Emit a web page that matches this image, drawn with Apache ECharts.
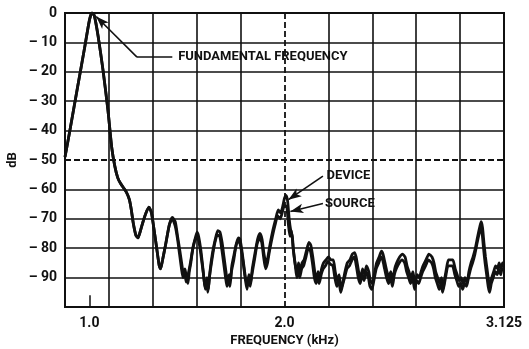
<!DOCTYPE html>
<html>
<head>
<meta charset="utf-8">
<script src="https://cdn.jsdelivr.net/npm/echarts@6/dist/echarts.min.js"></script>
<style>
html,body{margin:0;padding:0;background:#fff;}
#c{width:529px;height:349px;}
</style>
</head>
<body>
<div id="c"></div>
<script>
// X: frequency (kHz), Y: level (dB)
const xLabels = ['1.0', '2.0', '3.125'];
const xLabelValues = [1.0, 2.0, 3.125];
const yTicks = [0, -10, -20, -30, -40, -50, -60, -70, -80, -90];

const mainLobe = [[0.875,-49],[0.90,-40],[0.94,-25],[0.975,-12],[1.0,-2.5],[1.013,0],[1.025,-0.8],[1.045,-8],[1.07,-19.5],[1.095,-33],[1.115,-46],[1.13,-52],[1.145,-56],[1.16,-58],[1.19,-61],[1.205,-63.5],[1.215,-67],[1.225,-71.5],[1.238,-75.5],[1.249,-76.5],[1.262,-74],[1.275,-71],[1.29,-68],[1.305,-66],[1.318,-68],[1.33,-73],[1.345,-80],[1.358,-86],[1.365,-87],[1.375,-84],[1.39,-79],[1.41,-72]];

const deviceTail = [[1.425,-69.5],[1.44,-71],[1.452,-76],[1.464,-81],[1.475,-86],[1.482,-89],[1.49,-87],[1.497,-90],[1.505,-92],[1.512,-88],[1.52,-85],[1.53,-80],[1.545,-76],[1.552,-74.5],[1.56,-76],[1.572,-81],[1.582,-87],[1.59,-92],[1.597,-93.5],[1.603,-90],[1.61,-94],[1.618,-88],[1.63,-82],[1.645,-77],[1.658,-74],[1.669,-74.5],[1.68,-78],[1.69,-83],[1.70,-88],[1.708,-92],[1.716,-89],[1.723,-91],[1.73,-86],[1.742,-82],[1.755,-78],[1.765,-76.5],[1.772,-77],[1.78,-80],[1.79,-85],[1.80,-90],[1.81,-92],[1.818,-89],[1.826,-92],[1.835,-87],[1.848,-82],[1.862,-77],[1.874,-75],[1.885,-77],[1.895,-82],[1.905,-85],[1.915,-83],[1.925,-79],[1.94,-74],[1.955,-70],[1.968,-67],[1.98,-68],[1.99,-66],[2.0,-63],[2.008,-62],[2.016,-64],[2.024,-70],[2.032,-74],[2.04,-76],[2.048,-82],[2.056,-86],[2.065,-88],[2.072,-85],[2.08,-88],[2.09,-85],[2.1,-84],[2.112,-81],[2.125,-78],[2.135,-79],[2.145,-83],[2.155,-88],[2.165,-91],[2.172,-88],[2.18,-90],[2.19,-87],[2.2,-85],[2.212,-84],[2.225,-83],[2.238,-84],[2.25,-84],[2.26,-88],[2.27,-91],[2.28,-89],[2.29,-94],[2.298,-92],[2.31,-88],[2.322,-85],[2.335,-84],[2.348,-82],[2.36,-81.5],[2.37,-84],[2.38,-88],[2.39,-90],[2.40,-87],[2.41,-89],[2.42,-86],[2.432,-88],[2.44,-91],[2.45,-92],[2.46,-89],[2.472,-85],[2.485,-83],[2.497,-81],[2.505,-82],[2.515,-85],[2.525,-88],[2.535,-90],[2.545,-88],[2.555,-91],[2.565,-87],[2.575,-85],[2.59,-83],[2.605,-82],[2.618,-83],[2.628,-86],[2.638,-88],[2.648,-90],[2.658,-88],[2.669,-92],[2.68,-89],[2.69,-90],[2.70,-88],[2.71,-86],[2.725,-84],[2.74,-82],[2.756,-83],[2.766,-85],[2.775,-88],[2.785,-90],[2.795,-92],[2.805,-90],[2.812,-94],[2.822,-90],[2.83,-87],[2.84,-84],[2.852,-84],[2.863,-84],[2.875,-87],[2.885,-89],[2.895,-91],[2.905,-90],[2.915,-92],[2.925,-90],[2.935,-92],[2.945,-88],[2.956,-85],[2.966,-83],[2.978,-80],[2.99,-76],[3.0,-73],[3.008,-71],[3.015,-73],[3.022,-78],[3.03,-83],[3.038,-87],[3.046,-91],[3.053,-93],[3.062,-90],[3.072,-88],[3.082,-86],[3.092,-87],[3.1,-85],[3.11,-87],[3.118,-85],[3.125,-85]];

const sourceTail = [[1.425,-70],[1.44,-72.5],[1.452,-77],[1.462,-82],[1.472,-87],[1.48,-90],[1.488,-88],[1.496,-91.5],[1.506,-89],[1.515,-86],[1.528,-81],[1.54,-77.5],[1.552,-76],[1.562,-78],[1.575,-84],[1.585,-89],[1.594,-94],[1.6,-91],[1.607,-95],[1.615,-90],[1.628,-84],[1.642,-78.5],[1.656,-75.5],[1.668,-76],[1.678,-80],[1.688,-85],[1.698,-90],[1.705,-93],[1.712,-90],[1.72,-93],[1.728,-88],[1.74,-84],[1.752,-79],[1.763,-77.5],[1.772,-78.5],[1.782,-82],[1.792,-87],[1.80,-91],[1.808,-94],[1.816,-90],[1.824,-93],[1.833,-89],[1.846,-84],[1.86,-78.5],[1.872,-76.5],[1.883,-78],[1.893,-83],[1.903,-87],[1.913,-85],[1.923,-81],[1.938,-76],[1.952,-72],[1.965,-69],[1.978,-70],[1.988,-68],[1.996,-66],[2.004,-65.5],[2.012,-66],[2.02,-72],[2.028,-76],[2.036,-74],[2.044,-80],[2.054,-85],[2.063,-90],[2.07,-87],[2.078,-90],[2.088,-87],[2.098,-86],[2.11,-83],[2.122,-80],[2.133,-81],[2.143,-85],[2.153,-90],[2.162,-92],[2.17,-90],[2.178,-92],[2.188,-89],[2.198,-87],[2.21,-86],[2.222,-84.5],[2.236,-85.5],[2.248,-86],[2.258,-90],[2.268,-93],[2.278,-91],[2.288,-95],[2.296,-93],[2.308,-90],[2.32,-87],[2.333,-86],[2.346,-84],[2.358,-83],[2.368,-86],[2.378,-90],[2.388,-92],[2.398,-89],[2.408,-91],[2.418,-88],[2.43,-90],[2.438,-93],[2.448,-94],[2.458,-91],[2.47,-87],[2.483,-85],[2.495,-83],[2.503,-84],[2.513,-87],[2.523,-90],[2.533,-92],[2.543,-90],[2.553,-93],[2.563,-89],[2.573,-87],[2.588,-85],[2.603,-84],[2.616,-85],[2.626,-88],[2.636,-90],[2.646,-92],[2.656,-90],[2.667,-94],[2.678,-91],[2.688,-92],[2.698,-90],[2.708,-88],[2.723,-86],[2.738,-84],[2.754,-85],[2.764,-87],[2.773,-90],[2.783,-92],[2.793,-94],[2.803,-92],[2.81,-95],[2.82,-92],[2.828,-89],[2.838,-86],[2.85,-86],[2.861,-86],[2.873,-89],[2.883,-91],[2.893,-93],[2.903,-92],[2.913,-94],[2.923,-92],[2.933,-93],[2.943,-90],[2.954,-87],[2.964,-85],[2.976,-82],[2.988,-78],[2.998,-75],[3.006,-73],[3.013,-75],[3.02,-80],[3.028,-85],[3.036,-89],[3.044,-93],[3.051,-95],[3.06,-92],[3.07,-90],[3.08,-88],[3.09,-89],[3.098,-87],[3.108,-89],[3.116,-87],[3.125,-87]];

// annotation texts and the points their arrows connect (kHz, dB)
const annoTexts = ['FUNDAMENTAL FREQUENCY', 'DEVICE', 'SOURCE'];
const annoTextAt = [[1.455,-15],[2.215,-55.2],[2.208,-65]];
const fundLeader = [[1.425,-15],[1.244,-15]];
const fundArrow = [[1.244,-15],[1.035,-1.2]];
const deviceArrow = [[2.197,-55.5],[2.02,-63.5]];
const sourceArrow = [[2.197,-64.8],[2.03,-67.5]];

const FONT = 'Roboto, "Liberation Sans", sans-serif';
const BLACK = '#111';
const gridColors = [BLACK,BLACK,BLACK,BLACK,BLACK,'rgba(0,0,0,0)',BLACK,BLACK,BLACK,BLACK,BLACK];

const chart = echarts.init(document.getElementById('c'), null, {renderer:'canvas'});

function near(a,b){return Math.abs(a-b)<1e-6;}

chart.setOption({
  animation:false,
  backgroundColor:'#fff',
  grid:{left:65,top:13,right:25,bottom:42,containLabel:false,outerBoundsMode:'none',show:true,borderColor:BLACK,borderWidth:2,backgroundColor:'transparent'},
  xAxis:[{
    type:'value',min:0.875,max:3.125,interval:0.125,
    axisLine:{show:false},
    axisTick:{show:false},
    splitLine:{show:false},
    axisLabel:{
      color:BLACK,fontFamily:FONT,fontSize:14,fontWeight:'bold',margin:9,
      showMinLabel:true,showMaxLabel:true,hideOverlap:false,
      formatter:function(v){
        for(let i=0;i<xLabelValues.length;i++){ if(near(v,xLabelValues[i])) return xLabels[i]; }
        return '';
      }
    },
    name:'FREQUENCY (kHz)',nameLocation:'middle',nameGap:27,nameMoveOverlap:false,
    nameTextStyle:{color:BLACK,fontFamily:FONT,fontSize:13,fontWeight:'bold'}
  },{
    type:'value',min:0,max:10,interval:1,position:'bottom',
    axisLine:{show:false},axisTick:{show:false},axisLabel:{show:false},
    splitLine:{show:true,lineStyle:{color:gridColors,width:1.6}}
  }],
  yAxis:{
    type:'value',min:-100,max:0,interval:10,
    axisLine:{show:false},axisTick:{show:false},
    splitLine:{show:true,lineStyle:{color:gridColors,width:1.6}},
    axisLabel:{
      color:BLACK,fontFamily:FONT,fontSize:14,fontWeight:'bold',margin:8,
      formatter:function(v){
        if(yTicks.indexOf(v)<0) return '';
        return v===0 ? '0' : '\u2013 ' + (-v);
      }
    },
    name:'dB',nameLocation:'middle',nameGap:46,nameMoveOverlap:false,
    nameTextStyle:{color:BLACK,fontFamily:FONT,fontSize:13,fontWeight:'bold'}
  },
  series:[{
    name:'DEVICE',type:'line',xAxisIndex:0,yAxisIndex:0,
    data:mainLobe.concat(deviceTail),
    showSymbol:false,smooth:0.2,
    lineStyle:{color:BLACK,width:2.8},
    z:5,
    markLine:{
      silent:true,symbol:['none','none'],animation:false,
      label:{show:false},
      lineStyle:{color:BLACK,width:1.8,type:[6,3]},
      data:[
        {yAxis:-50},
        {xAxis:2.0},
        [{coord:[1.0,-100],lineStyle:{type:'solid',width:1.5}},{coord:[1.0,-96]}],
        [{coord:fundLeader[0],lineStyle:{type:'solid',width:1.6}},{coord:fundLeader[1]}],
        [{coord:fundArrow[0],lineStyle:{type:'solid',width:1.6},symbol:'none'},{coord:fundArrow[1],symbol:'arrow',symbolSize:[7,13]}],
        [{coord:deviceArrow[0],lineStyle:{type:'solid',width:1.6},symbol:'none'},{coord:deviceArrow[1],symbol:'arrow',symbolSize:[7,13]}],
        [{coord:sourceArrow[0],lineStyle:{type:'solid',width:1.6},symbol:'none'},{coord:sourceArrow[1],symbol:'arrow',symbolSize:[7,13]}]
      ]
    },
    markPoint:{
      silent:true,symbol:'circle',symbolSize:0,animation:false,
      itemStyle:{color:'rgba(0,0,0,0)'},
      label:{show:true,position:'right',distance:0,color:BLACK,fontFamily:FONT,fontSize:13,fontWeight:'bold'},
      data:annoTexts.map(function(t,i){return {coord:annoTextAt[i],value:t,label:{formatter:t}};})
    }
  },{
    name:'SOURCE',type:'line',xAxisIndex:0,yAxisIndex:0,
    data:mainLobe.concat(sourceTail),
    showSymbol:false,smooth:0.2,
    lineStyle:{color:BLACK,width:2.8},
    z:5
  }]
});
</script>
</body>
</html>
